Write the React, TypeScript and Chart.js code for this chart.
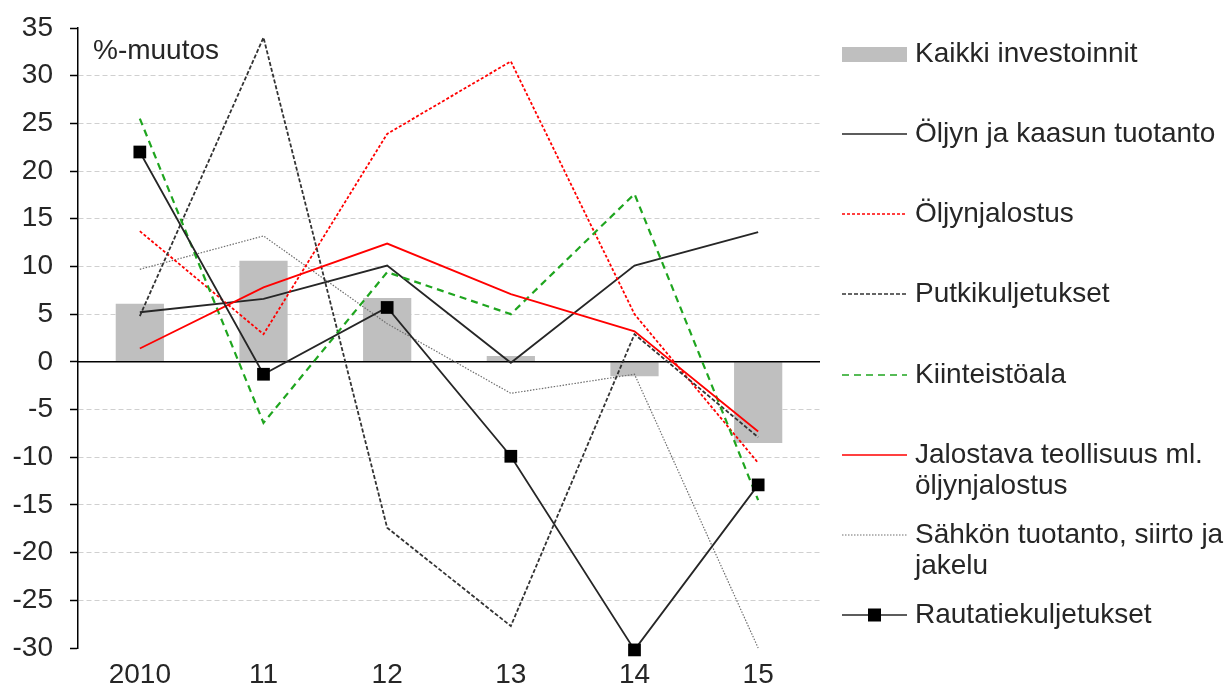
import React, { useEffect, useRef } from "react";
import { Chart, registerables } from "chart.js";

Chart.register(...registerables);

const categories = ["2010", "11", "12", "13", "14", "15"];
const kaikkiInvestoinnit = [6.1, 10.6, 6.7, 0.6, -1.5, -8.5];
const oljynJaKaasunTuotanto = [5.2, 6.6, 10.1, -0.1, 10.1, 13.6];
const oljynjalostus = [13.7, 2.9, 23.9, 31.5, 5.0, -10.6];
const putkikuljetukset = [4.8, 34.0, -17.4, -27.7, 2.9, -7.9];
const kiinteistoala = [25.5, -6.4, 9.4, 5.0, 17.6, -14.5];
const jalostavaTeollisuus = [1.4, 7.8, 12.4, 7.1, 3.2, -7.3];
const sahkonTuotanto = [9.7, 13.2, 4.0, -3.3, -1.3, -30.0];
const rautatiekuljetukset = [22.0, -1.3, 5.7, -9.9, -30.2, -12.9];

const yMin = -30;
const yMax = 35;
const yStep = 5;

const legendLines: string[][] = [
  ["Kaikki investoinnit"],
  ["Öljyn ja kaasun tuotanto"],
  ["Öljynjalostus"],
  ["Putkikuljetukset"],
  ["Kiinteistöala"],
  ["Jalostava teollisuus ml.", "öljynjalostus"],
  ["Sähkön tuotanto, siirto ja", "jakelu"],
  ["Rautatiekuljetukset"],
];
const unitLabel = "%-muutos";

const FONT = "'Liberation Sans', Arial, sans-serif";
const TEXT = "#262626";

const legendPlugin = {
  id: "customLegend",
  afterDraw(chart: any) {
    const ctx = chart.ctx;
    const ds = chart.data.datasets;
    const baselines = [62, 142, 222, 302, 383, 463, 543, 623];
    const x0 = 842;
    const x1 = 907;
    const tx = 915;
    ctx.save();
    ctx.font = `28px ${FONT}`;
    ctx.fillStyle = TEXT;
    ctx.textBaseline = "alphabetic";
    ctx.textAlign = "left";
    legendLines.forEach((lines, i) => {
      const b = baselines[i];
      const sy = b - 8;
      const d = ds[i];
      ctx.save();
      if (d.type === "bar") {
        ctx.fillStyle = d.backgroundColor;
        ctx.fillRect(x0, sy - 7, x1 - x0, 15);
      } else {
        ctx.strokeStyle = d.borderColor;
        ctx.lineWidth = Math.min(d.borderWidth, 1.5);
        ctx.setLineDash(d.borderDash || []);
        ctx.beginPath();
        ctx.moveTo(x0, sy);
        ctx.lineTo(x1, sy);
        ctx.stroke();
        if (d.pointRadius > 0) {
          ctx.fillStyle = d.pointBackgroundColor;
          ctx.fillRect((x0 + x1) / 2 - 6.5, sy - 6.5, 13, 13);
        }
      }
      ctx.restore();
      lines.forEach((t, j) => {
        ctx.fillText(t, tx, b + j * 31);
      });
    });
    ctx.font = `28px ${FONT}`;
    ctx.fillText(unitLabel, 93, 59);
    ctx.restore();
  },
  afterDatasetDraw(chart: any, args: any) {
    if (args.index !== 0) return;
    const { ctx, chartArea, scales } = chart;
    const y = scales.y.getPixelForValue(0);
    ctx.save();
    ctx.strokeStyle = "#000";
    ctx.lineWidth = 1.5;
    ctx.beginPath();
    ctx.moveTo(chartArea.left, y);
    ctx.lineTo(chartArea.right, y);
    ctx.stroke();
    ctx.restore();
  },
};

export default function App() {
  const ref = useRef<HTMLCanvasElement>(null);
  useEffect(() => {
    if (!ref.current) return;
    const line = (label: string, data: number[], color: string, width: number, dash: number[], order = 0) => ({
      type: "line" as const,
      label,
      data,
      borderColor: color,
      backgroundColor: color,
      borderWidth: width,
      borderDash: dash,
      pointRadius: 0,
      tension: 0,
      fill: false,
      clip: false as any,
      order,
    });
    const chart = new Chart(ref.current, {
      data: {
        labels: categories,
        datasets: [
          {
            type: "bar",
            label: legendLines[0].join(" "),
            data: kaikkiInvestoinnit,
            backgroundColor: "#bfbfbf",
            borderWidth: 0,
            categoryPercentage: 1,
            barPercentage: 0.39,
            order: 10,
          } as any,
          line(legendLines[1].join(" "), oljynJaKaasunTuotanto, "#262626", 1.8, [], 5),
          line(legendLines[2].join(" "), oljynjalostus, "#ff0000", 1.8, [3, 2], 4),
          line(legendLines[3].join(" "), putkikuljetukset, "#333333", 1.8, [4, 2], 3),
          line(legendLines[4].join(" "), kiinteistoala, "#1fa51f", 2.2, [7, 5], 2),
          line(legendLines[5].join(" "), jalostavaTeollisuus, "#ff0000", 1.8, [], 1),
          line(legendLines[6].join(" "), sahkonTuotanto, "#6f6f6f", 1.2, [1.5, 1.5], 6),
          {
            ...line(legendLines[7].join(" "), rautatiekuljetukset, "#262626", 1.8, [], -1),
            pointRadius: 9,
            pointHoverRadius: 9,
            pointStyle: "rect",
            pointBackgroundColor: "#000000",
            pointBorderColor: "#000000",
            pointBorderWidth: 0,
          },
        ],
      },
      options: {
        responsive: false,
        animation: false,
        events: [],
        layout: { padding: { left: 0, right: 410, top: 28, bottom: 0 } },
        plugins: { legend: { display: false }, tooltip: { enabled: false } },
        scales: {
          x: {
            offset: true,
            grid: { display: false, drawTicks: false },
            border: { display: false },
            ticks: { color: TEXT, font: { family: FONT, size: 28 }, padding: 10, maxRotation: 0 },
            afterFit: (s: any) => {
              s.height = 40;
            },
          },
          y: {
            min: yMin,
            max: yMax,
            ticks: { stepSize: yStep, color: TEXT, font: { family: FONT, size: 28 }, padding: 17 },
            grid: {
              color: (c: any) => {
                const v = c.tick ? c.tick.value : null;
                if (v === yMin || v === yMax || v === 0) return "rgba(0,0,0,0)";
                return "#d0d0d0";
              },
              tickColor: "#000000",
              tickLength: 8,
              lineWidth: 1,
              tickWidth: 1.5,
            },
            border: { display: true, color: "#000000", width: 1.5, dash: [5, 3] },
            afterFit: (s: any) => {
              s.width = 78;
              s.paddingTop = 10;
              s.paddingBottom = 10;
            },
          },
        },
      },
      plugins: [legendPlugin],
    } as any);
    return () => chart.destroy();
  }, []);
  return (
    <div style={{ position: "fixed", left: 0, top: 0, width: 1230, height: 688, background: "#fff" }}>
      <canvas ref={ref} width={1230} height={688} style={{ width: 1230, height: 688 }} />
    </div>
  );
}
